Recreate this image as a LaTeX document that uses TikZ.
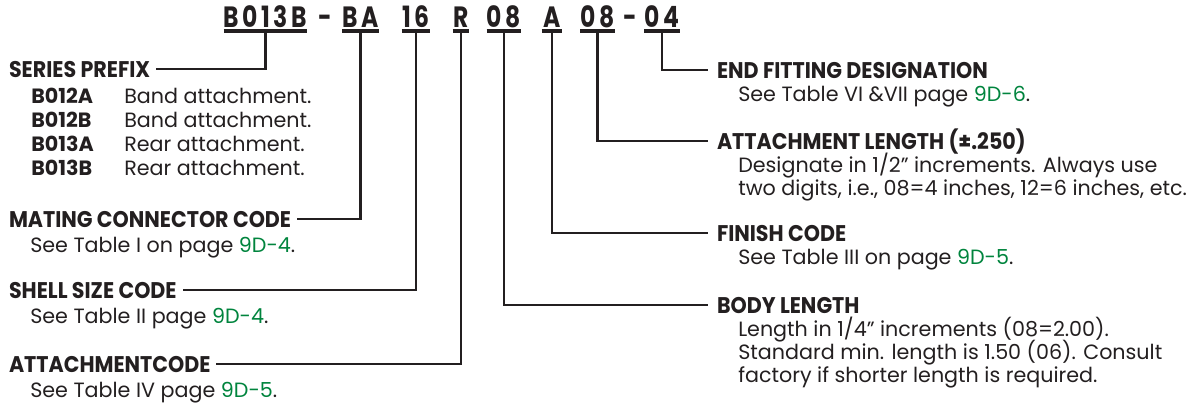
\documentclass[tikz,border=0pt]{standalone}
\usepackage{fontspec}
\setmainfont{Poppins}
\newfontfamily\hdfont{Poppins}[FakeStretch=0.91]
\newfontfamily\codefont{Poppins}[FakeStretch=0.8,LetterSpace=12]
\definecolor{ink}{RGB}{35,31,32}
\definecolor{refgreen}{RGB}{0,132,61}
\newcommand{\pg}[1]{{\color{refgreen}#1}}
\begin{document}
\begin{tikzpicture}[x=0.75pt,y=-0.75pt,
  hdr/.style={font=\hdfont\bfseries\fontsize{17}{20}\selectfont, text=ink, inner sep=0pt, text height=11.9pt, text depth=0pt, anchor=base west},
  hdl/.style={hdr, outer xsep=4.5pt},
  hdrr/.style={hdr, outer xsep=6.75pt},
  desc/.style={font=\fontsize{15.5}{18}\selectfont, text=ink, inner sep=0pt, anchor=base west},
  rowcode/.style={desc, font=\bfseries\fontsize{15.5}{18}\selectfont},
  code/.style={font=\codefont\bfseries\fontsize{22}{26}\selectfont, text=ink, inner sep=0pt, text depth=0pt, anchor=base},
  conn/.style={draw=ink, line width=1.9pt},
  uline/.style={draw=ink, line width=3pt}
]
\useasboundingbox (0,0) rectangle (1204,405);
% top code
\node[code, minimum width=60.75pt] (c1) at (265.5,27) {B013B};
\node[code] (d1) at (325,27) {-};
\node[code, minimum width=26.25pt] (c2) at (360.5,27) {BA};
\node[code, minimum width=21pt] (c3) at (416,27) {16};
\node[code, minimum width=12pt] (c4) at (461,27) {R};
\node[code, minimum width=24pt] (c5) at (504,27) {08};
\node[code, minimum width=15pt] (c6) at (552,27) {A};
\node[code, minimum width=23.25pt] (c7) at (597.5,27) {08};
\node[code] (d2) at (630,27) {-};
\node[code, minimum width=24pt] (c8) at (662,27) {04};
\foreach \c in {c1,c2,c3,c4,c5,c6,c7,c8}
  \draw[uline] ([yshift=-3pt]\c.south west) -- ([yshift=-3pt]\c.south east);
% left headers
\node[hdl] (sp) at (3,77) {SERIES PREFIX};
\node[rowcode] (r1) at (31,103) {B012A};
\node[desc] (t1) at (124,103) {Band attachment.};
\node[rowcode] (r2) at (31,127) {B012B};
\node[desc] (t2) at (124,127) {Band attachment.};
\node[rowcode] (r3) at (31,151) {B013A};
\node[desc] (t3) at (124,151) {Rear attachment.};
\node[rowcode] (r4) at (31,175) {B013B};
\node[desc] (t4) at (124,175) {Rear attachment.};
\node[hdl] (mc) at (3,227) {MATING CONNECTOR CODE};
\node[desc] (mcd) at (30,252) {See Table I on page \pg{9D-4}.};
\node[hdl] (ss) at (3,298) {SHELL SIZE CODE};
\node[desc] (ssd) at (30,323) {See Table II page \pg{9D-4}.};
\node[hdl] (ac) at (3,372) {ATTACHMENTCODE};
\node[desc] (acd) at (30,397) {See Table IV page \pg{9D-5}.};
% right headers
\node[hdrr] (ef) at (708,78) {END FITTING DESIGNATION};
\node[desc] (efd) at (738,101) {See Table VI \&VII page \pg{9D-6}.};
\node[hdrr] (al) at (708,149) {ATTACHMENT LENGTH (±.250)};
\node[desc] (ald1) at (738,172) {Designate in 1/2” increments. Always use};
\node[desc] (ald2) at (738,195) {two digits, i.e., 08=4 inches, 12=6 inches, etc.};
\node[hdrr] (fc) at (708,241) {FINISH CODE};
\node[desc] (fcd) at (738,264) {See Table III on page \pg{9D-5}.};
\node[hdrr] (bl) at (708,313) {BODY LENGTH};
\node[desc] (bld1) at (738,336) {Length in 1/4” increments (08=2.00).};
\node[desc] (bld2) at (738,359) {Standard min. length is 1.50 (06). Consult};
\node[desc] (bld3) at (738,382) {factory if shorter length is required.};
% connectors
\draw[conn] ([yshift=-3pt]c1.south) |- (sp.east);
\draw[conn] ([yshift=-3pt]c2.south) |- (mc.east);
\draw[conn] ([yshift=-3pt]c3.south) |- (ss.east);
\draw[conn] ([yshift=-3pt]c4.south) |- (ac.east);
\draw[conn] ([yshift=-3pt]c5.south) |- (bl.west);
\draw[conn] ([yshift=-3pt]c6.south) |- (fc.west);
\draw[conn] ([yshift=-3pt]c7.south) |- (al.west);
\draw[conn] ([yshift=-3pt]c8.south) |- (ef.west);
\end{tikzpicture}
\end{document}
